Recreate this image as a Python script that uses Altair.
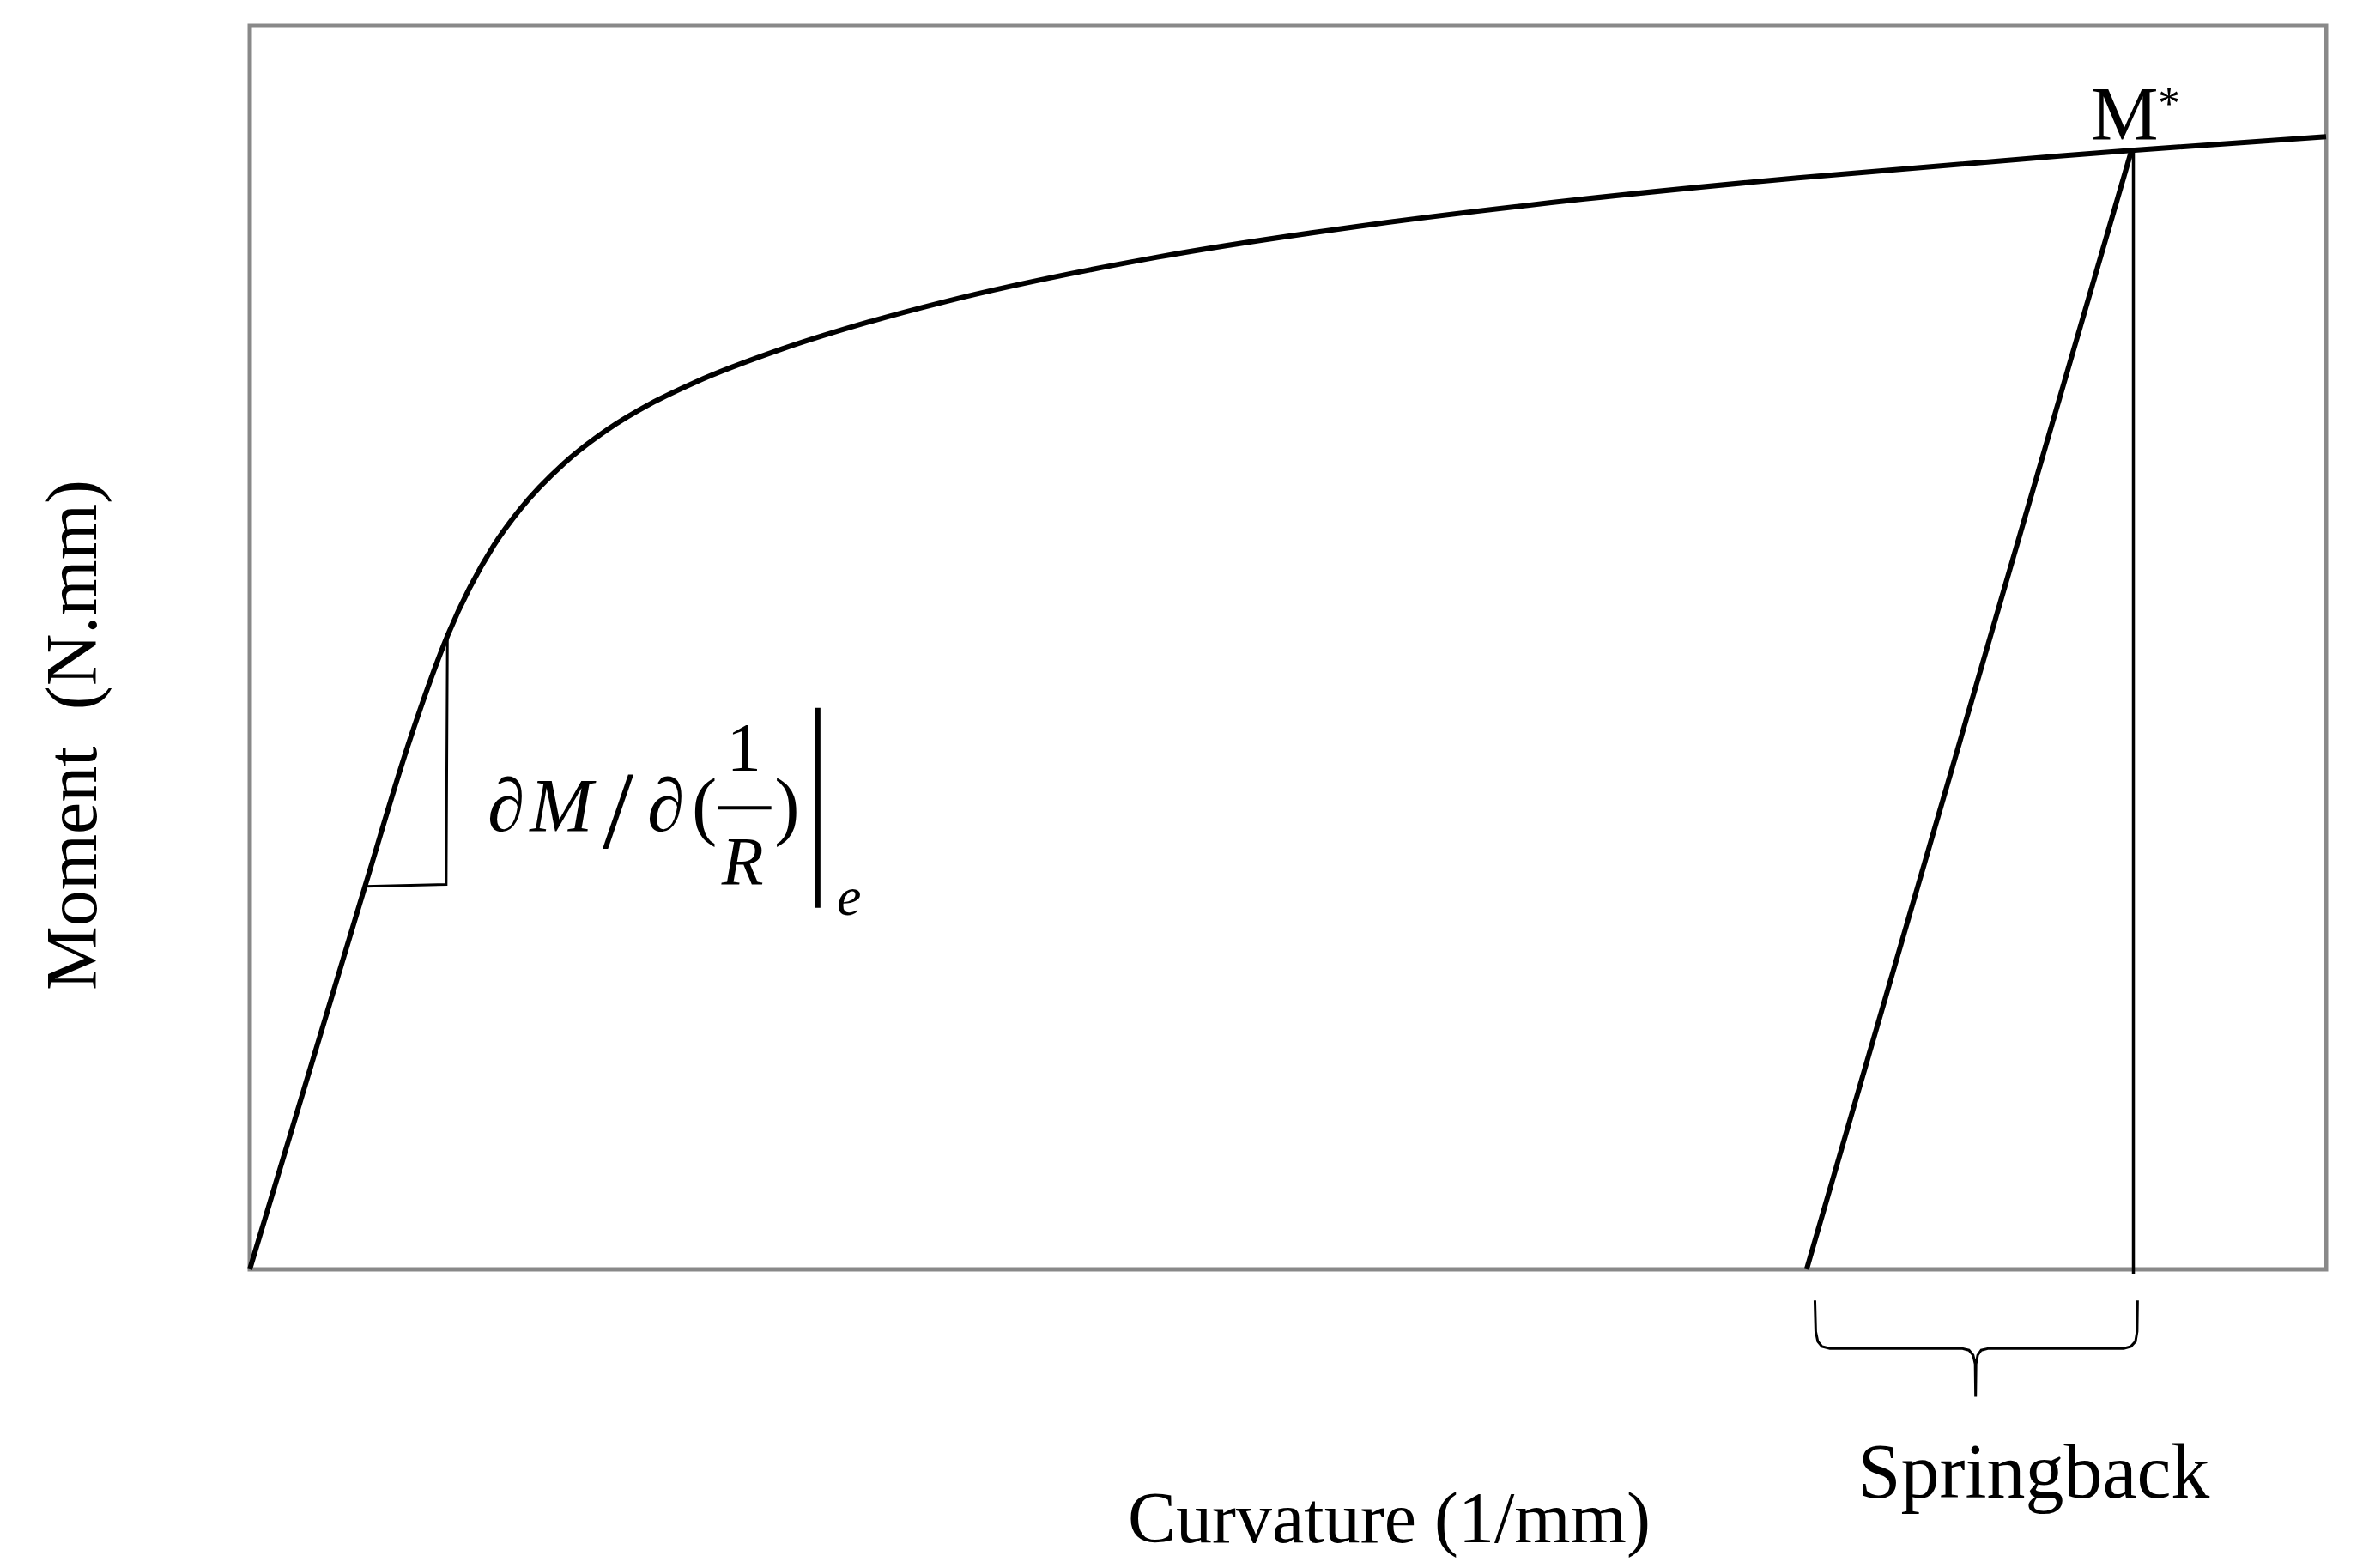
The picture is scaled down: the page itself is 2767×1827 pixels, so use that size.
import altair as alt
import pandas as pd

# ---- data (arbitrary units 0-100 on both axes) ----
curve_x = [0, 5.53, 7.75, 9.54, 11.75, 13.01, 15.12, 17.23, 19.34, 21.45, 25.66,
           29.88, 33.43, 43.71, 53.99, 64.28, 74.56, 87.16, 90.63, 100]
curve_y = [0, 30.69, 42.79, 51.02, 58.2, 61.1, 64.79, 67.53, 69.64, 71.33, 74.02,
           76.21, 77.79, 81.39, 84.01, 86.07, 87.77, 89.53, 89.98, 91.08]

unload_x = [74.98, 90.63]
unload_y = [0, 89.98]

mstar_x = [90.72, 90.72]
mstar_y = [89.98, -0.4]

tri_x = [5.55, 9.46, 9.52]
tri_y = [30.8, 30.95, 50.9]

brace_x = [75.38, 75.42, 75.52, 75.72, 76.1, 82.45, 82.8, 83.0, 83.1, 83.12,
           83.14, 83.22, 83.39, 83.74, 90.25, 90.6, 90.82, 90.9, 90.92]
brace_y = [-2.5, -5.0, -5.8, -6.2, -6.36, -6.36, -6.5, -6.9, -7.6, -10.24,
           -7.6, -6.9, -6.5, -6.36, -6.36, -6.2, -5.8, -5.0, -2.5]

frac_x = [22.55, 25.12]
frac_y = [37.12, 37.12]

evalbar_x = [27.35, 27.35]
evalbar_y = [45.16, 29.07]

# formula glyphs
ital_txt = ["∂", "M", "∂", "R", "e"]
ital_x = [12.35, 15.0, 20.04, 23.74, 28.86]
ital_y = [35.29, 35.29, 35.29, 30.94, 28.5]
ital_fs = [88, 88, 88, 80, 64]

up_txt = ["/", "(", ")", "1"]
up_x = [17.74, 21.9, 25.87, 23.8]
up_y = [33.9, 35.29, 35.29, 40.1]
up_fs = [130, 88, 88, 80]

label_txt = ["M", "*", "Springback"]
label_x = [90.3, 92.43, 85.92]
label_y = [90.9, 92.55, -18.37]
label_fs = [88, 52, 90]

FONT = "Liberation Serif"

xs = alt.Scale(domain=[0, 100], nice=False, zero=False)
ys = alt.Scale(domain=[0, 100], nice=False, zero=False)


def line_layer(xv, yv, width, interp="linear", with_axes=False):
    df = pd.DataFrame({"x": xv, "y": yv, "o": list(range(len(xv)))})
    if with_axes:
        xenc = alt.X("x:Q", scale=xs, axis=alt.Axis(
            title="Curvature (1/mm)", titleFont=FONT, titleFontSize=84,
            titleFontWeight="normal", titleColor="black", titleX=1327, titleY=317,
            titleBaseline="alphabetic", titleAlign="center"))
        yenc = alt.Y("y:Q", scale=ys, axis=alt.Axis(
            title="Moment\u00a0 (N.mm)", titleFont=FONT, titleFontSize=84,
            titleFontWeight="normal", titleColor="black", titleX=-180, titleY=826,
            titleAngle=270, titleBaseline="alphabetic", titleAlign="center"))
    else:
        xenc = alt.X("x:Q", scale=xs)
        yenc = alt.Y("y:Q", scale=ys)
    return alt.Chart(df).mark_line(color="black", strokeWidth=width,
                                   interpolate=interp).encode(
        x=xenc, y=yenc, order="o:Q")


def text_layer(txt, xv, yv, fs, style="normal"):
    df = pd.DataFrame({"t": txt, "x": xv, "y": yv, "fs": fs})
    return alt.Chart(df).mark_text(font=FONT, fontStyle=style, color="black",
                                   align="center", baseline="alphabetic").encode(
        x=alt.X("x:Q", scale=xs), y=alt.Y("y:Q", scale=ys),
        text="t:N", size=alt.Size("fs:Q", scale=None, legend=None))


chart = alt.layer(
    line_layer(curve_x, curve_y, 6, "monotone", with_axes=True),
    line_layer(unload_x, unload_y, 6),
    line_layer(mstar_x, mstar_y, 3.5),
    line_layer(tri_x, tri_y, 3),
    line_layer(brace_x, brace_y, 3),
    line_layer(frac_x, frac_y, 4),
    line_layer(evalbar_x, evalbar_y, 6.5),
    text_layer(ital_txt, ital_x, ital_y, ital_fs, "italic"),
    text_layer(up_txt, up_x, up_y, up_fs),
    text_layer(label_txt, label_x, label_y, label_fs),
).properties(
    width=2419, height=1449,
    autosize=alt.AutoSizeParams(type="none"),
    padding={"left": 283, "top": 22, "right": 40, "bottom": 345},
).configure_view(
    stroke="#898989", strokeWidth=5
).configure_axis(
    domain=False, ticks=False, labels=False, grid=False
)

chart.save("out.html", embed_options={"renderer": "svg", "actions": False})
